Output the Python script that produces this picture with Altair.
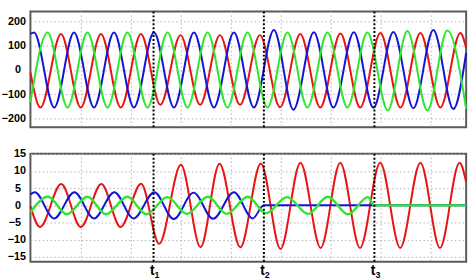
import altair as alt
import pandas as pd

# ---- time axis (ms) ----
T_DOMAIN = [0, 218]
GRID_T = [25.5, 50.5, 75.5, 100.5, 125.5, 150.5, 175.5, 200.5]
EVENT_T = [61.6, 116.8, 172.1]
EVENT_SUB = ["1", "2", "3"]

# ---- top panel: voltages (extrema) ----
RED_V_T = [0, 5.0, 15.3, 25.2, 35.3, 45.2, 55.3, 65.0, 75.1, 84.9, 94.8, 104.9, 114.8,
           124.9, 135.0, 145.0, 155.1, 165.0, 175.1, 185.1, 195.1, 205.1, 215.1, 218]
RED_V = [-10, -154, 148, -154, 148, -154, 148, -143, 143, -143, 143, -143, 143,
         -153, 148, -154, 150, -154, 152, -154, 152, -154, 152, 90]

BLUE_V_T = [0, 1.8, 11.9, 21.8, 31.8, 41.8, 51.8, 61.8, 71.8, 81.8, 91.8, 101.8, 111.8,
            121.8, 131.6, 141.8, 151.6, 161.8, 171.6, 181.6, 191.6, 201.6, 211.6, 218]
BLUE_V = [148, 154, -154, 154, -154, 154, -154, 154, -154, 154, -154, 154, -154,
          164, -163, 155, -154, 155, -155, 156, -157, 164, -160, 70]

GREEN_V_T = [0, 8.6, 18.6, 28.5, 38.6, 48.5, 58.6, 68.6, 78.6, 88.6, 98.6, 108.6, 118.6,
             128.6, 138.6, 148.6, 158.6, 168.6, 178.8, 188.6, 198.6, 208.6, 218]
GREEN_V = [-133, 154, -154, 154, -154, 154, -154, 154, -154, 154, -154, 154, -154,
           154, -154, 154, -154, 154, -166, 160, -166, 162, -160]

# ---- bottom panel: currents ----
RED_I_T = [0, 4.8, 15.4, 25.2, 35.5, 45.1, 55.4, 64.4, 75.3, 85.1, 94.6, 105.0, 115.3,
           125.1, 135.1, 145.2, 155.0, 164.9, 175.0, 185.0, 195.1, 204.9, 214.7, 218]
RED_I = [-0.3, -6.3, 6.2, -6.3, 6.2, -6.3, 6.3, -11.2, 11.8, -12.2, 12.1, -12.2, 12.2,
         -12.7, 12.4, -12.4, 12.4, -12.4, 12.4, -12.4, 12.4, -12.4, 12.4, 6.8]

BLUE_I_T = [0, 2.2, 11.8, 22.0, 31.8, 42.0, 51.6, 62.0, 71.7, 81.6, 91.4, 101.8, 111.2, 116.8, 218]
BLUE_I = [3.2, 3.8, -3.8, 3.8, -3.8, 3.8, -3.8, 3.8, -4.0, 3.7, -3.9, 3.8, -3.8, 0, 0]

GREEN_I_T = [0, 8.8, 18.2, 28.5, 37.8, 48.5, 58.0, 68.5, 78.3, 88.8, 98.2, 108.8, 117.8,
             128.4, 138.9, 148.8, 158.8, 168.9, 172.0, 218]
GREEN_I = [-2.0, 2.5, -2.6, 2.5, -2.6, 2.5, -2.6, 2.4, -2.5, 2.5, -2.5, 2.5, -2.3,
           2.4, -2.5, 2.5, -2.6, 2.4, 0, 0]

Y_TOP_DOMAIN = [-235, 240]
Y_TOP_TICKS = [-200, -100, 0, 100, 200]
Y_BOT_DOMAIN = [-16.4, 15]
Y_BOT_TICKS = [-15, -10, -5, 0, 5, 10, 15]

RED, GREEN, BLUE = "#e81414", "#2ee62e", "#1414d4"
GRID_COLOR = "#b0b0c0"
W = 444
H_TOP = 118
H_BOT = 110

xscale = alt.Scale(domain=T_DOMAIN, nice=False, zero=False)


def yaxis(ticks, test):
    return alt.Axis(values=ticks, grid=True, gridColor=GRID_COLOR, gridDash=[1.5, 2.5],
                    gridWidth=1, ticks=False, tickSize=0, domain=False,
                    labelFont="Liberation Sans", labelFontWeight="bold", labelFontSize=11,
                    labelColor="black", labelAlign="right",
                    labelPadding={"condition": {"test": test, "value": 5}, "value": 10},
                    title=None)


def line(ts, vs, color, ydom, ax, width=2):
    df = pd.DataFrame({"t": ts, "v": vs})
    return alt.Chart(df).mark_line(color=color, strokeWidth=width, interpolate="monotone").encode(
        x=alt.X("t:Q", scale=xscale, axis=None),
        y=alt.Y("v:Q", scale=alt.Scale(domain=ydom, nice=False, zero=False), axis=ax),
    )


def grid_rules():
    return alt.Chart(pd.DataFrame({"t": GRID_T})).mark_rule(
        color=GRID_COLOR, strokeDash=[1.5, 2.5], strokeWidth=1
    ).encode(x=alt.X("t:Q", scale=xscale, axis=None))


def event_rules():
    return alt.Chart(pd.DataFrame({"t": EVENT_T})).mark_rule(
        color="black", strokeDash=[2, 2], strokeWidth=2
    ).encode(x=alt.X("t:Q", scale=xscale, axis=None))


ax_top = yaxis(Y_TOP_TICKS, "datum.value != 0")
top = alt.layer(
    grid_rules(),
    line(RED_V_T, RED_V, RED, Y_TOP_DOMAIN, ax_top),
    line(BLUE_V_T, BLUE_V, BLUE, Y_TOP_DOMAIN, ax_top),
    line(GREEN_V_T, GREEN_V, GREEN, Y_TOP_DOMAIN, ax_top),
    event_rules(),
).properties(width=W, height=H_TOP)

ax_bot = yaxis(Y_BOT_TICKS, "abs(datum.value) >= 10")
ev_df = pd.DataFrame({"t": EVENT_T, "sub": EVENT_SUB})
t_text = alt.Chart(ev_df).mark_text(
    text="t", font="Liberation Sans", fontSize=14, fontWeight="bold", align="right",
    baseline="alphabetic", dx=1, color="black"
).encode(x=alt.X("t:Q", scale=xscale, axis=None), y=alt.value(H_BOT + 14))
sub_text = alt.Chart(ev_df).mark_text(
    font="Liberation Sans", fontSize=9, fontWeight="bold", align="left",
    baseline="alphabetic", dx=1, color="black"
).encode(x=alt.X("t:Q", scale=xscale, axis=None), y=alt.value(H_BOT + 17), text="sub:N")

bottom = alt.layer(
    grid_rules(),
    line(RED_I_T, RED_I, RED, Y_BOT_DOMAIN, ax_bot),
    line(BLUE_I_T, BLUE_I, BLUE, Y_BOT_DOMAIN, ax_bot),
    line(GREEN_I_T, GREEN_I, GREEN, Y_BOT_DOMAIN, ax_bot, width=2.4),
    event_rules(),
    t_text,
    sub_text,
).properties(width=W, height=H_BOT)

chart = alt.vconcat(top, bottom, spacing=18).properties(
    padding={"left": 0, "top": 7, "right": 2, "bottom": 0},
    background="white",
).configure_view(stroke="#5a5a5a", strokeWidth=2)

chart.save("out.html", embed_options={"renderer": "svg", "actions": False})
